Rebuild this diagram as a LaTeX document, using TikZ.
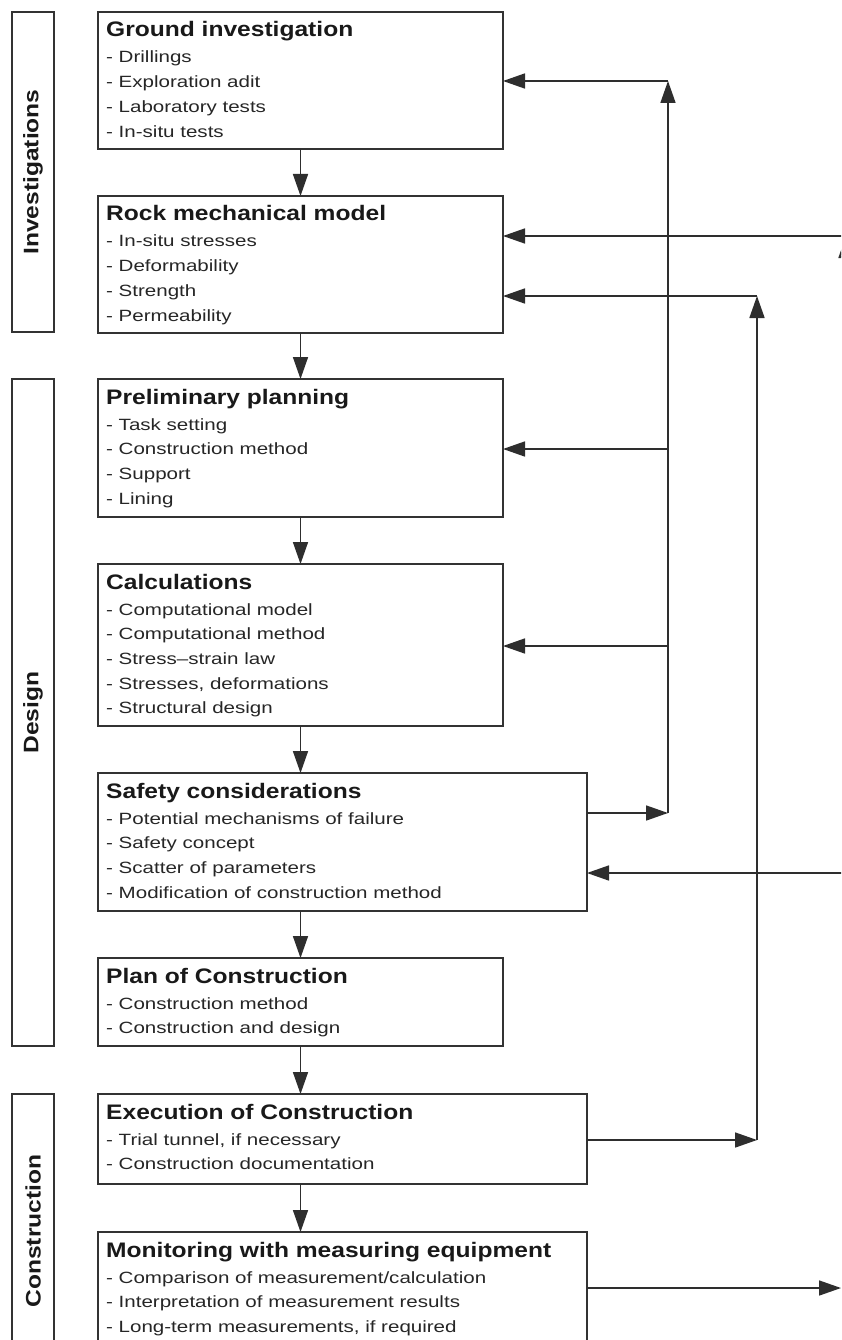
\documentclass[tikz,border=0pt]{standalone}
\usepackage{fontspec}
\setmainfont{Liberation Sans}
\newfontfamily\itemfont[FakeStretch=1.26]{Liberation Sans}
\newfontfamily\titlefont[FakeStretch=1.17]{Liberation Sans}
\usetikzlibrary{arrows.meta,calc}
\tikzset{
  box/.style={draw=black!80, line width=1.6pt, outer sep=0pt, inner sep=0pt, fill=none},
  ttl/.style={inner sep=0pt, text=black!90, font=\titlefont\bfseries\fontsize{21pt}{24pt}\selectfont},
  itm/.style={inner sep=0pt, text=black!85, font=\itemfont\fontsize{16.3pt}{20pt}\selectfont},
  side/.style={inner sep=0pt, text=black!90, font=\titlefont\bfseries\fontsize{21pt}{24pt}\selectfont},
  arr/.style={draw=black!82, line width=1.6pt, -{Triangle[length=22pt,width=15pt]}},
}
\newcommand{\flowbox}[7]{%
  \node[box, anchor=north west, minimum width=#4pt, minimum height=#5pt] (#1) at (#2,#3) {};
  \node[ttl, anchor=base west] (#1-t) at ($(#1.north west)+(8,25)$) {#6};
  \foreach \itx [count=\k] in {#7} {
    \node[itm, anchor=base west] (#1-\k) at ($(#1.north west)+(8,{51+24.7*(\k-1)})$) {-\ \itx};
  }
}
\begin{document}
\begin{tikzpicture}[x=1pt, y=-1pt]
\useasboundingbox[fill=white] (0,0) rectangle (841,1340);
\clip (0,0) rectangle (841,1340);

% side labels
\node[box, anchor=north west, minimum width=42pt, minimum height=320pt] (inv) at (12,12) {};
\node[side, rotate=90] (invl) at (inv.center) {Investigations};
\node[box, anchor=north west, minimum width=42pt, minimum height=667pt] (des) at (12,379) {};
\node[side, rotate=90] (desl) at (des.center) {Design};
\node[box, anchor=north west, minimum width=42pt, minimum height=280pt] (con) at (12,1094) {};
\node[side, rotate=90] (conl) at (33,1231) {Construction};

% main boxes
\flowbox{gi}{98}{12}{405}{137}{Ground investigation}{Drillings,Exploration adit,Laboratory tests,In-situ tests}
\flowbox{rm}{98}{196}{405}{137}{Rock mechanical model}{In-situ stresses,Deformability,Strength,Permeability}
\flowbox{pp}{98}{379}{405}{138}{Preliminary planning}{Task setting,Construction method,Support,Lining}
\flowbox{ca}{98}{564}{405}{162}{Calculations}{Computational model,Computational method,Stress–strain law,{Stresses, deformations},Structural design}
\flowbox{sc}{98}{773}{489}{138}{Safety considerations}{Potential mechanisms of failure,Safety concept,Scatter of parameters,Modification of construction method}
\flowbox{pc}{98}{958}{405}{88}{Plan of Construction}{Construction method,Construction and design}
\flowbox{ec}{98}{1094}{489}{90}{Execution of Construction}{{Trial tunnel, if necessary},Construction documentation}
\flowbox{mo}{98}{1232}{489}{137}{Monitoring with measuring equipment}{{Comparison of measurement/calculation},Interpretation of measurement results,{Long-term measurements, if required}}

% down arrows
\draw[arr] (gi.south) -- (rm.north);
\draw[arr] (rm.south) -- (pp.north);
\draw[arr] (pp.south) -- (ca.north);
\draw[arr] (ca.south) -- (ca.south |- sc.north);
\draw[arr] (sc.south -| pc.north) -- (pc.north);
\draw[arr] (pc.south) -- (pc.south |- ec.north);
\draw[arr] (ec.south -| pc.south) -- (pc.south |- mo.north);

% feedback bus A (from safety considerations)
\coordinate (A0) at (668,813);
\coordinate (A1) at (668,81);
\coordinate (A2) at (668,449);
\coordinate (A3) at (668,646);
\draw[arr] (sc.east |- A0) -- (A0);
\draw[arr] (A0) -- (A1);
\draw[arr] (A1) -- (A1 -| gi.east);
\draw[arr] (A2) -- (A2 -| pp.east);
\draw[arr] (A3) -- (A3 -| ca.east);

% feedback bus B (from execution)
\coordinate (B0) at (757,1140);
\coordinate (B1) at (757,296);
\draw[arr] (ec.east |- B0) -- (B0);
\draw[arr] (B0) -- (B1);
\draw[arr] (B1) -- (B1 -| rm.east);

% off-page connectors
\coordinate (C0) at (846,1400);
\coordinate (C1) at (846,236);
\draw[arr] (C0) -- (C1);
\draw[arr] (C1) -- (C1 -| rm.east);
\coordinate (D0) at (870,873);
\draw[arr] (D0) -- (D0 -| sc.east);
\coordinate (E0) at (841,1288);
\draw[arr] (mo.east |- E0) -- (E0);
\end{tikzpicture}
\end{document}
